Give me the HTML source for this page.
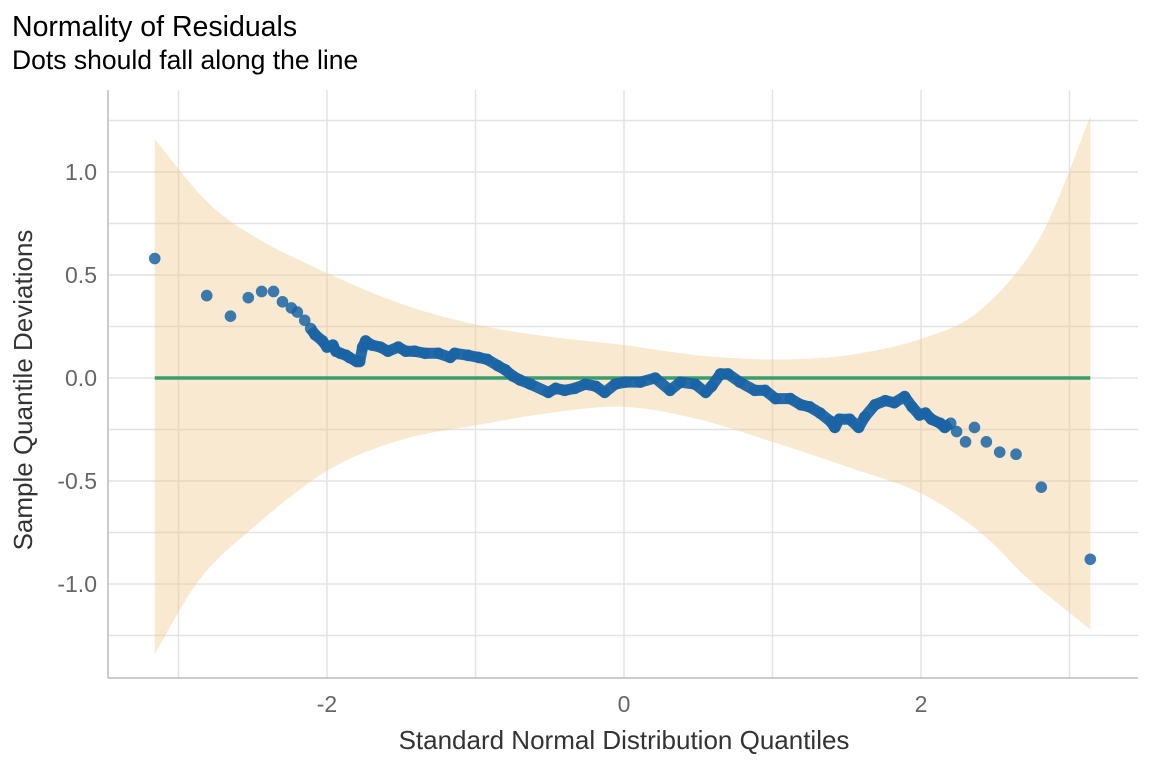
<!DOCTYPE html>
<html><head><meta charset="utf-8"><style>
body{margin:0;background:#fff;font-family:"Liberation Sans",sans-serif}
</style></head><body>
<svg id="c" width="1152" height="768" xmlns="http://www.w3.org/2000/svg">
<text x="12" y="36" font-size="28.5" fill="#000">Normality of Residuals</text>
<text x="12" y="69" font-size="26.5" fill="#000">Dots should fall along the line</text>
<text x="624" y="749" font-size="26" fill="#333" text-anchor="middle">Standard Normal Distribution Quantiles</text>
<text transform="translate(32,390) rotate(-90)" font-size="26" fill="#333" text-anchor="middle">Sample Quantile Deviations</text>
<g id="grid"></g><g id="band"></g><g id="ref"></g><g id="pts"></g><g id="axes"></g>
</svg>
<script>
const xTicks=[-2,0,2];
const xGrid=[-3,-2,-1,0,1,2,3];
const yTicks=[-1.0,-0.5,0.0,0.5,1.0];
const yGrid=[-1.25,-1,-0.75,-0.5,-0.25,0,0.25,0.5,0.75,1,1.25];
const bandUpX=[-3.16,-2.8,-2.45,-2,-1.5,-1,-0.5,0,0.5,1,1.5,2,2.4,2.8,3.14];
const bandUp=[1.16,0.85,0.67,0.51,0.36,0.26,0.20,0.16,0.11,0.09,0.11,0.19,0.33,0.68,1.27];
const bandLoX=[-3.16,-2.86,-2.52,-2,-1.5,-1,-0.5,0,0.5,1,1.5,2,2.4,2.73,3.14];
const bandLo=[-1.34,-0.98,-0.74,-0.45,-0.30,-0.23,-0.17,-0.14,-0.20,-0.31,-0.43,-0.56,-0.75,-0.98,-1.22];
const qx=[-3.16,-2.81,-2.65,-2.53,-2.44,-2.36,-2.30,-2.24,-2.20,-2.15,-2.11,-2.08,-2.03,-2.00,-1.96,-1.94,-1.91,-1.87,-1.85,-1.80,-1.78,-1.76,-1.74,-1.70,-1.64,-1.59,-1.52,-1.47,-1.41,-1.34,-1.25,-1.17,-1.14,-1.05,-0.98,-0.92,-0.85,-0.80,-0.75,-0.70,-0.63,-0.51,-0.46,-0.40,-0.33,-0.26,-0.19,-0.13,-0.06,0.01,0.11,0.21,0.31,0.38,0.48,0.55,0.59,0.65,0.70,0.78,0.88,0.95,1.02,1.12,1.19,1.25,1.32,1.39,1.42,1.45,1.52,1.58,1.62,1.69,1.76,1.82,1.89,1.94,1.99,2.03,2.07,2.13,2.16,2.20,2.24,2.30,2.36,2.44,2.53,2.64,2.81,3.14];
const qy=[0.58,0.40,0.30,0.39,0.42,0.42,0.37,0.34,0.32,0.28,0.24,0.21,0.18,0.15,0.16,0.13,0.12,0.11,0.10,0.08,0.08,0.15,0.18,0.16,0.15,0.13,0.15,0.13,0.13,0.12,0.12,0.10,0.12,0.11,0.10,0.09,0.06,0.04,0.01,-0.01,-0.03,-0.07,-0.05,-0.06,-0.05,-0.03,-0.04,-0.07,-0.03,-0.02,-0.02,0.00,-0.06,-0.02,-0.03,-0.07,-0.04,0.02,0.02,-0.02,-0.06,-0.06,-0.10,-0.10,-0.13,-0.14,-0.17,-0.21,-0.24,-0.20,-0.20,-0.24,-0.19,-0.13,-0.11,-0.12,-0.09,-0.14,-0.18,-0.17,-0.20,-0.22,-0.24,-0.22,-0.26,-0.31,-0.24,-0.31,-0.36,-0.37,-0.53,-0.88];
const X=v=>624+v*148.5, Y=v=>378-v*206;
const NS="http://www.w3.org/2000/svg";
function mk(t,a,p){const e=document.createElementNS(NS,t);for(const k in a)e.setAttribute(k,a[k]);p.appendChild(e);return e;}
function smooth(pts){let d='';for(let i=0;i<pts.length-1;i++){const p0=pts[Math.max(0,i-1)],p1=pts[i],p2=pts[i+1],p3=pts[Math.min(pts.length-1,i+2)];
const c1=[p1[0]+(p2[0]-p0[0])/6,p1[1]+(p2[1]-p0[1])/6],c2=[p2[0]-(p3[0]-p1[0])/6,p2[1]-(p3[1]-p1[1])/6];
d+='C'+c1[0]+','+c1[1]+' '+c2[0]+','+c2[1]+' '+p2[0]+','+p2[1];}return d;}
const L=108,R=1138,T=90,B=678;
const g=document.getElementById('grid');
yGrid.forEach(v=>{const e=mk('line',{x1:L,x2:R,y1:Y(v),y2:Y(v),stroke:'#e3e3e3','stroke-width':1.5},g);

});
xGrid.forEach(v=>{const e=mk('line',{x1:X(v),x2:X(v),y1:T,y2:B,stroke:'#e3e3e3','stroke-width':1.5},g);

});
const up=bandUpX.map((x,i)=>[X(x),Y(bandUp[i])]);
const lo=bandLoX.map((x,i)=>[X(x),Y(bandLo[i])]).reverse();
const d='M'+up[0].join(',')+smooth(up)+'L'+lo[0].join(',')+smooth(lo)+'Z';
const band=mk('path',{d:d,fill:'#f0c98a','fill-opacity':0.4,'stroke':'none'},document.getElementById('band'));


const ref=mk('line',{x1:X(bandUpX[0]),x2:X(bandUpX[bandUpX.length-1]),y1:Y(0),y2:Y(0),stroke:'#3a9e6b','stroke-width':3.5},document.getElementById('ref'));


const pg=document.getElementById('pts');
const dense=[];qx.forEach((x,i)=>{if(x>-2.12&&x<2.22)dense.push(X(x)+','+Y(qy[i]));});
const pl=mk('polyline',{points:dense.join(' '),fill:'none',stroke:'#1460a5','stroke-width':11,'stroke-linejoin':'round','stroke-opacity':0.92},pg);


qx.forEach((x,i)=>{const c=mk('circle',{cx:X(x),cy:Y(qy[i]),r:5.8,fill:'#1a64a6','fill-opacity':0.85},pg);

});
const ax=document.getElementById('axes');
const a1=mk('line',{x1:L,x2:L,y1:T,y2:B,stroke:'#bbb','stroke-width':1.5},ax);


const a2=mk('line',{x1:L,x2:R,y1:B,y2:B,stroke:'#bbb','stroke-width':1.5},ax);


xTicks.forEach(v=>{const t=mk('text',{x:X(v),y:712,'font-size':23,fill:'#666','text-anchor':'middle'},ax);t.textContent=String(v);

});
yTicks.forEach(v=>{const t=mk('text',{x:97,y:Y(v)+8,'font-size':23,fill:'#666','text-anchor':'end'},ax);t.textContent=v.toFixed(1);

});
</script>
</body></html>
